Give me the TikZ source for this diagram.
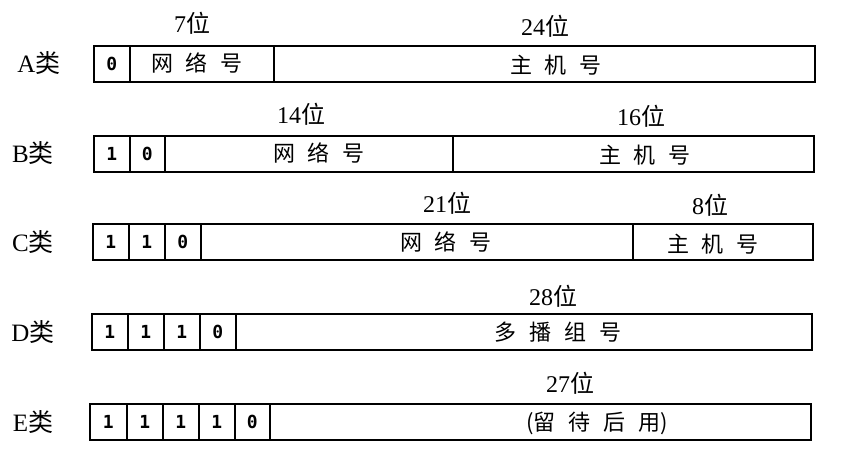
\documentclass[tikz,border=0pt]{standalone}
\usepackage{fontspec}
\setmainfont{Liberation Serif}
\newfontfamily\cjk{Noto Sans CJK SC}
\newfontfamily\bitfont{DejaVu Sans Mono}
\newcommand{\gp}{\hspace{13pt}}
\begin{document}
\begin{tikzpicture}[x=1pt,y=-1pt,
  box/.style={draw, line width=1.6pt, inner sep=0pt, anchor=north west, minimum height=36pt},
  bit/.style={box, font=\bitfont\bfseries\fontsize{18}{18}\selectfont},
  field/.style={font=\cjk\fontsize{22}{22}\selectfont, inner sep=0pt},
  cls/.style={font=\fontsize{25}{25}\selectfont, inner sep=0pt},
  width/.style={font=\fontsize{24}{24}\selectfont, inner sep=0pt}]
\useasboundingbox[fill=white] (0,0) rectangle (843,453);
% Row A
\node[cls] (la) at (39,63) {A{\cjk 类}};
\node[bit, minimum width=36pt] (a1) at (93,45) {0};
\node[box, minimum width=144pt] (a2) at (129,45) {};
\node[box, minimum width=541pt] (a3) at (273,45) {};
\node[field] (ta2) at (197,63) {网\gp 络\gp 号};
\node[field] (ta3) at (556,65) {主\gp 机\gp 号};
\node[width] (wa2) at (192,23) {7{\cjk 位}};
\node[width] (wa3) at (545,26) {24{\cjk 位}};
% Row B
\node[cls] (lb) at (33,153) {B{\cjk 类}};
\node[bit, minimum width=36pt] (b1) at (93,135) {1};
\node[bit, minimum width=35pt] (b2) at (129,135) {0};
\node[box, minimum width=288pt] (b3) at (164,135) {};
\node[box, minimum width=361pt] (b4) at (452,135) {};
\node[field] (tb3) at (319,153) {网\gp 络\gp 号};
\node[field] (tb4) at (645,155) {主\gp 机\gp 号};
\node[width] (wb3) at (301,114) {14{\cjk 位}};
\node[width] (wb4) at (641,116) {16{\cjk 位}};
% Row C
\node[cls] (lc) at (33,242) {C{\cjk 类}};
\node[bit, minimum width=36pt] (c1) at (92,223) {1};
\node[bit, minimum width=36pt] (c2) at (128,223) {1};
\node[bit, minimum width=36pt] (c3) at (164,223) {0};
\node[box, minimum width=432pt] (c4) at (200,223) {};
\node[box, minimum width=180pt] (c5) at (632,223) {};
\node[field] (tc4) at (446,242) {网\gp 络\gp 号};
\node[field] (tc5) at (713,244) {主\gp 机\gp 号};
\node[width] (wc4) at (447,203) {21{\cjk 位}};
\node[width] (wc5) at (710,205) {8{\cjk 位}};
% Row D
\node[cls] (ld) at (33,332) {D{\cjk 类}};
\node[bit, minimum width=36pt] (d1) at (91,313) {1};
\node[bit, minimum width=36pt] (d2) at (127,313) {1};
\node[bit, minimum width=36pt] (d3) at (163,313) {1};
\node[bit, minimum width=36pt] (d4) at (199,313) {0};
\node[box, minimum width=576pt] (d5) at (235,313) {};
\node[field] (td5) at (558,332) {多\gp 播\gp 组\gp 号};
\node[width] (wd5) at (553,296) {28{\cjk 位}};
% Row E
\node[cls] (le) at (33,422) {E{\cjk 类}};
\node[bit, minimum width=37pt] (e1) at (89,403) {1};
\node[bit, minimum width=36pt] (e2) at (126,403) {1};
\node[bit, minimum width=36pt] (e3) at (162,403) {1};
\node[bit, minimum width=36pt] (e4) at (198,403) {1};
\node[bit, minimum width=35pt] (e5) at (234,403) {0};
\node[box, minimum width=541pt] (e6) at (269,403) {};
\node[field] (te6) at (597,423) {(留\gp 待\gp 后\gp 用)};
\node[width] (we6) at (570,383) {27{\cjk 位}};
\end{tikzpicture}
\end{document}
